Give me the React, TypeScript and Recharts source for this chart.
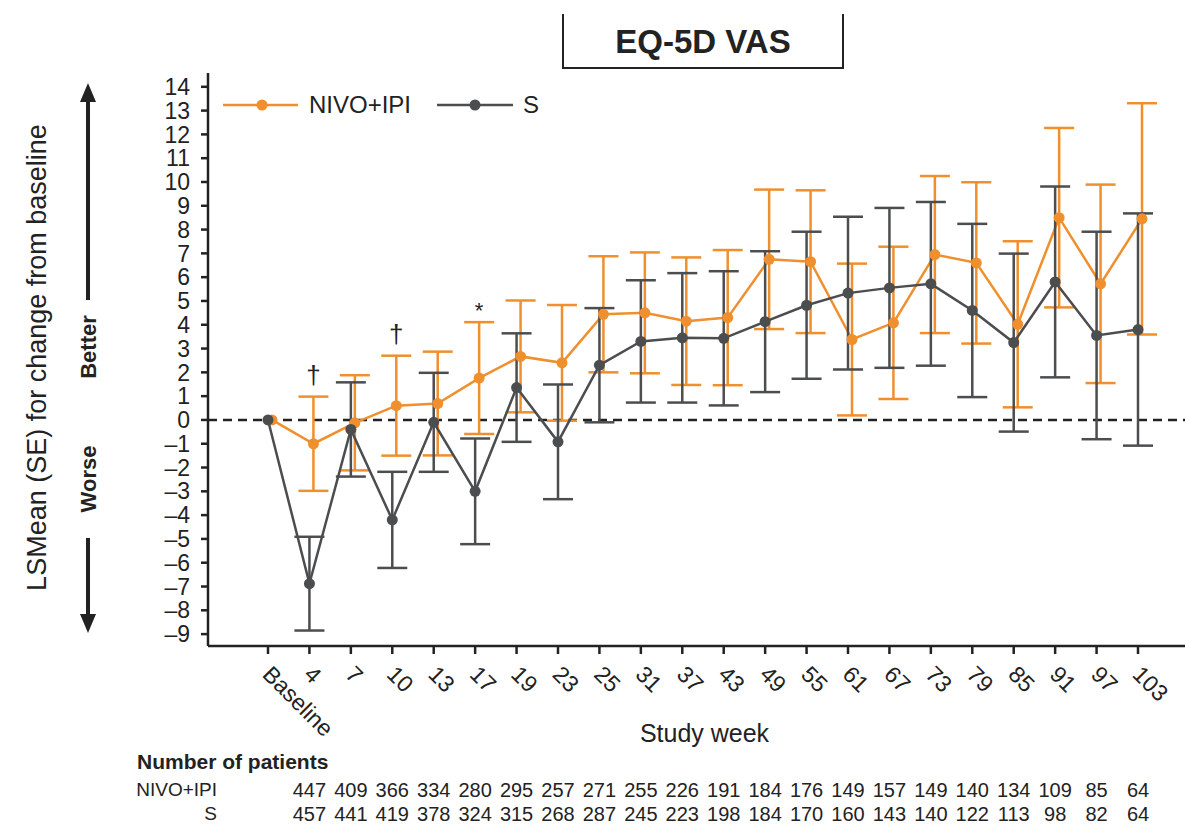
import React from 'react';
import { LineChart, Line, XAxis, YAxis, ErrorBar, ReferenceLine, LabelList } from 'recharts';

const weeks = ['Baseline', '4', '7', '10', '13', '17', '19', '23', '25', '31', '37', '43', '49', '55', '61', '67', '73', '79', '85', '91', '97', '103'];
const nivoMean = [0, -1.0, -0.12, 0.6, 0.69, 1.76, 2.67, 2.4, 4.44, 4.5, 4.15, 4.3, 6.75, 6.65, 3.38, 4.08, 6.95, 6.6, 4.02, 8.5, 5.72, 8.45];
const nivoSE = [null, 1.98, 2.0, 2.1, 2.18, 2.35, 2.35, 2.43, 2.44, 2.54, 2.68, 2.84, 2.93, 3.0, 3.19, 3.2, 3.3, 3.39, 3.49, 3.77, 4.17, 4.86];
const sMean = [0, -6.88, -0.4, -4.2, -0.1, -3.0, 1.36, -0.92, 2.3, 3.3, 3.45, 3.43, 4.13, 4.82, 5.33, 5.55, 5.72, 4.6, 3.25, 5.8, 3.55, 3.8];
const sSE = [null, 1.97, 1.98, 2.02, 2.08, 2.22, 2.28, 2.41, 2.4, 2.57, 2.72, 2.82, 2.96, 3.09, 3.21, 3.36, 3.44, 3.64, 3.74, 4.01, 4.36, 4.88];
const sigMarks = ['', '†', '', '†', '', '*', '', '', '', '', '', '', '', '', '', '', '', '', '', '', '', ''];
const nivoN = [null, 447, 409, 366, 334, 280, 295, 257, 271, 255, 226, 191, 184, 176, 149, 157, 149, 140, 134, 109, 85, 64];
const sN = [null, 457, 441, 419, 378, 324, 315, 268, 287, 245, 223, 198, 184, 170, 160, 143, 140, 122, 113, 98, 82, 64];
const yTicks = [-9, -8, -7, -6, -5, -4, -3, -2, -1, 0, 1, 2, 3, 4, 5, 6, 7, 8, 9, 10, 11, 12, 13, 14];
const seriesNames = ['NIVO+IPI', 'S'];

const ORANGE = '#EF8F2D';
const GRAY = '#4B4D4F';
const INK = '#222222';
const FONT = '"Liberation Sans", Arial, Helvetica, sans-serif';

const data = weeks.map((w, i) => ({
  week: w,
  nivo: nivoMean[i],
  nivoErr: nivoSE[i],
  s: sMean[i],
  sErr: sSE[i],
  mark: sigMarks[i],
  markY: sigMarks[i] ? nivoMean[i] + (nivoSE[i] || 0) : null,
}));

const XTick = (props: any) => {
  const { x, y, payload, index } = props;
  const n1 = nivoN[index];
  const n2 = sN[index];
  return (
    <g>
      <text
        transform={`translate(${x - 1},${y + 14}) rotate(45)`}
        textAnchor="start"
        dy="0.35em"
        fontSize={23}
        fontFamily={FONT}
        fill={INK}
      >
        {payload.value}
      </text>
      {n1 != null && (
        <text x={x} y={y + 134} dy="0.35em" textAnchor="middle" fontSize={20} fontFamily={FONT} fill={INK}>
          {n1}
        </text>
      )}
      {n2 != null && (
        <text x={x} y={y + 158} dy="0.35em" textAnchor="middle" fontSize={20} fontFamily={FONT} fill={INK}>
          {n2}
        </text>
      )}
    </g>
  );
};

const YLabel = (props: any) => {
  const vb = props.viewBox || {};
  const cx = vb.x + 29;
  const cy = vb.y + vb.height / 2 - 2;
  return (
    <text
      transform={`translate(${cx},${cy}) rotate(-90)`}
      textAnchor="middle"
      dy="0.35em"
      fontSize={27}
      fontFamily={FONT}
      fill={INK}
    >
      LSMean (SE) for change from baseline
    </text>
  );
};

const XLabel = (props: any) => {
  const vb = props.viewBox || {};
  return (
    <text
      x={vb.x + vb.width / 2 + 8}
      y={vb.y + 87}
      dy="0.35em"
      textAnchor="middle"
      fontSize={25}
      fontFamily={FONT}
      fill={INK}
    >
      Study week
    </text>
  );
};

const MarkLabel = (props: any) => {
  const { value } = props;
  if (!value) return null;
  const x = props.x ?? props.viewBox?.x;
  const y = props.y ?? props.viewBox?.y;
  if (x == null || y == null) return null;
  const isStar = value === '*';
  return (
    <text x={x} y={isStar ? y - 4 : y - 13} textAnchor="middle" fontSize={isStar ? 22 : 26} fontFamily={FONT} fill={INK}>
      {value}
    </text>
  );
};

const yFmt = (v: number) => (v < 0 ? '\u2013' + Math.abs(v) : String(v));

export default function App() {
  return (
    <div style={{ position: 'absolute', left: 0, top: 0, width: 1190, height: 825, background: '#fff', fontFamily: FONT }}>
      <LineChart width={1190} height={825} data={data} margin={{ top: 73, right: 5, left: 8, bottom: 0 }}>
        <XAxis
          dataKey="week"
          scale="point"
          padding={{ left: 60, right: 47 }}
          interval={0}
          height={179}
          tickSize={8}
          tickMargin={2}
          stroke={INK}
          strokeWidth={2.5}
          tick={<XTick />}
          label={<XLabel />}
        />
        <XAxis xAxisId="o" dataKey="week" scale="point" padding={{ left: 64, right: 43 }} hide />
        <YAxis
          domain={[-9.5, 14.58]}
          ticks={yTicks}
          interval={0}
          width={200}
          tickSize={7}
          tickMargin={11}
          stroke={INK}
          strokeWidth={2.5}
          tickFormatter={yFmt}
          tick={{ fontSize: 23, fill: INK, fontFamily: FONT }}
          label={<YLabel />}
        />
        <ReferenceLine y={0} stroke={INK} strokeWidth={2.6} strokeDasharray="9 6" />
        <Line
          xAxisId="o"
          dataKey="nivo"
          name={seriesNames[0]}
          stroke={ORANGE}
          strokeWidth={2.5}
          dot={{ r: 5.5, fill: ORANGE, stroke: ORANGE, strokeWidth: 0 }}
          isAnimationActive={false}
        >
          <ErrorBar dataKey="nivoErr" width={15} stroke={ORANGE} strokeWidth={2.5} direction="y" isAnimationActive={false} />
        </Line>
        <Line
          dataKey="s"
          name={seriesNames[1]}
          stroke={GRAY}
          strokeWidth={2.5}
          dot={{ r: 5.5, fill: GRAY, stroke: GRAY, strokeWidth: 0 }}
          isAnimationActive={false}
        >
          <ErrorBar dataKey="sErr" width={15} stroke={GRAY} strokeWidth={2.5} direction="y" isAnimationActive={false} />
        </Line>
        <Line
          xAxisId="o"
          dataKey="markY"
          stroke="none"
          dot={false}
          legendType="none"
          isAnimationActive={false}
        >
          <LabelList dataKey="mark" content={<MarkLabel />} />
        </Line>
      </LineChart>
      <svg
        width={1190}
        height={825}
        style={{ position: 'absolute', left: 0, top: 0, pointerEvents: 'none' }}
        fontFamily={FONT}
      >
        {/* Title box */}
        <path d="M563,14 V68 H843 V14" fill="none" stroke={INK} strokeWidth={2} />
        <text x={703} y={41} dy="0.35em" textAnchor="middle" fontSize={33} fontWeight="bold" fill={INK}>
          EQ-5D VAS
        </text>
        {/* Legend */}
        <line x1={223} y1={105} x2={298} y2={105} stroke={ORANGE} strokeWidth={2.5} />
        <circle cx={262} cy={105} r={5.5} fill={ORANGE} />
        <text x={309} y={105} dy="0.35em" fontSize={24} fill={INK}>{seriesNames[0]}</text>
        <line x1={437} y1={105} x2={513} y2={105} stroke={GRAY} strokeWidth={2.5} />
        <circle cx={475} cy={105} r={5.5} fill={GRAY} />
        <text x={523} y={105} dy="0.35em" fontSize={24} fill={INK}>{seriesNames[1]}</text>
        {/* Better / Worse arrows */}
        <line x1={88} y1={98} x2={88} y2={300} stroke={INK} strokeWidth={4} />
        <polygon points="88,83 80,102 96,102" fill={INK} />
        <text transform="translate(88,347) rotate(-90)" textAnchor="middle" dy="0.35em" fontSize={22} fontWeight="bold" fill={INK}>
          Better
        </text>
        <text transform="translate(88,479) rotate(-90)" textAnchor="middle" dy="0.35em" fontSize={22} fontWeight="bold" fill={INK}>
          Worse
        </text>
        <line x1={88} y1={538} x2={88} y2={618} stroke={INK} strokeWidth={4} />
        <polygon points="88,633 80,614 96,614" fill={INK} />
        {/* Number of patients table labels */}
        <text x={137} y={762} dy="0.35em" fontSize={21} fontWeight="bold" fill={INK}>Number of patients</text>
        <text x={217} y={789} dy="0.35em" textAnchor="end" fontSize={19} fill={INK}>{seriesNames[0]}</text>
        <text x={217} y={813} dy="0.35em" textAnchor="end" fontSize={19} fill={INK}>{seriesNames[1]}</text>
      </svg>
    </div>
  );
}
